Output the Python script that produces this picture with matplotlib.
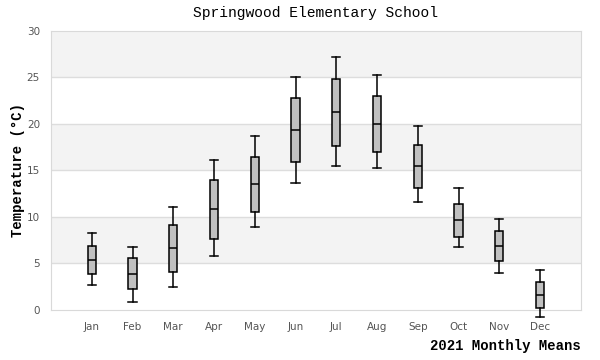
import matplotlib.pyplot as plt

months = ['Jan', 'Feb', 'Mar', 'Apr', 'May', 'Jun',
          'Jul', 'Aug', 'Sep', 'Oct', 'Nov', 'Dec']
# whisker low, q1, median, q3, whisker high (deg C)
lows = [2.65, 0.82, 2.44, 5.77, 8.9, 13.7, 15.5, 15.3, 11.58, 6.74, 3.94, -0.78]
q1s = [3.84, 2.22, 4.05, 7.6, 10.5, 15.9, 17.6, 16.95, 13.08, 7.81, 5.23, 0.18]
medians = [5.34, 3.84, 6.63, 10.83, 13.5, 19.3, 21.25, 19.96, 15.5, 9.64, 6.85, 1.58]
q3s = [6.85, 5.55, 9.1, 14.0, 16.5, 22.75, 24.8, 22.97, 17.7, 11.36, 8.46, 2.98]
highs = [8.25, 6.8, 11.04, 16.1, 18.75, 25.1, 27.25, 25.3, 19.8, 13.08, 9.75, 4.27]

stats = []
for i in range(len(months)):
    stats.append({'whislo': lows[i], 'q1': q1s[i], 'med': medians[i],
                  'q3': q3s[i], 'whishi': highs[i], 'label': months[i]})

fig = plt.figure(figsize=(6, 3.6), dpi=100)
ax = fig.add_axes([0.085, 0.139, 0.883, 0.775])

# alternating bands
for y0 in [5, 15, 25]:
    ax.axhspan(y0, y0 + 5, color='#f3f3f3', zorder=0, lw=0)
for y in [5, 10, 15, 20, 25]:
    ax.axhline(y, color='#dddddd', lw=1, zorder=1)

bp = ax.bxp(stats, positions=range(len(months)), widths=0.2, patch_artist=True,
            showfliers=False,
            boxprops=dict(facecolor='#c0c0c0', edgecolor='black', linewidth=1.1),
            medianprops=dict(color='black', linewidth=1.1),
            whiskerprops=dict(color='black', linewidth=1.1),
            capprops=dict(color='black', linewidth=1.1), capwidths=0.2)
for k in ['boxes', 'medians', 'whiskers', 'caps']:
    for a in bp[k]:
        a.set_clip_on(False)
        a.set_zorder(3)

ax.set_xlim(-1, 12)
ax.set_ylim(0, 30)
ax.set_yticks([0, 5, 10, 15, 20, 25, 30])
ax.set_xticks(range(len(months)))
ax.set_xticklabels(months)
ax.tick_params(length=0, labelsize=7.5, labelcolor='#555555')
ax.tick_params(axis='x', pad=9)
ax.tick_params(axis='y', pad=8)
for s in ax.spines.values():
    s.set_color('#d9d9d9')

mono = 'Liberation Mono'
ax.set_title('Springwood Elementary School', family=mono, fontsize=10.5, pad=10)
ax.set_ylabel('Temperature (°C)', family=mono, fontsize=10, fontweight='bold', labelpad=1)
ax.set_xlabel('2021 Monthly Means', family=mono, fontsize=10, fontweight='bold', loc='right', labelpad=5)

fig.savefig('out.png')
